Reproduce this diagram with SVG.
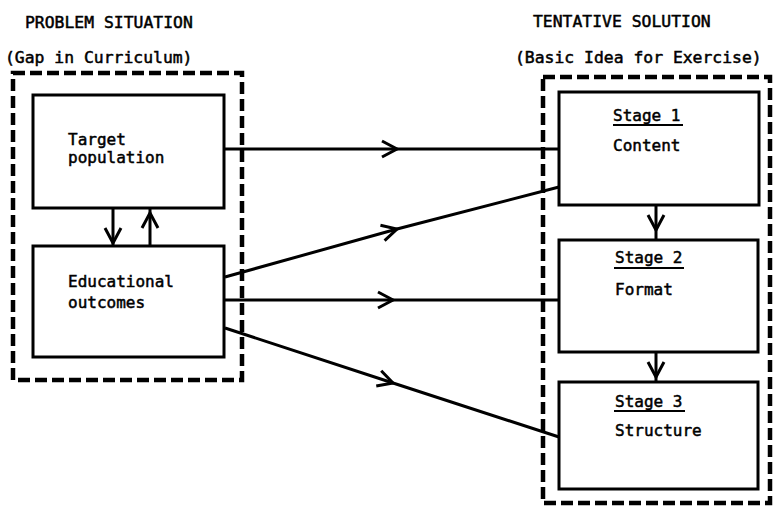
<svg xmlns="http://www.w3.org/2000/svg" width="776" height="508" viewBox="0 0 776 508">
<defs>
<marker id="chev" markerUnits="userSpaceOnUse" markerWidth="40" markerHeight="40" viewBox="-20 -20 40 40" refX="0" refY="0" orient="auto" overflow="visible">
<path d="M -15 -8 L 0 0 L -15 8" fill="none" stroke="#000" stroke-width="3" stroke-linejoin="miter"/>
</marker>
</defs>
<style>
text{font-family:"DejaVu Sans Mono","Liberation Mono",monospace;font-size:16px;fill:#000;stroke:#000;stroke-width:0.5}
.hdr{font-size:16.4px}
.box{fill:#fff;stroke:#000;stroke-width:3}
.dash{fill:none;stroke:#000;stroke-width:4.5;stroke-dasharray:12 5}
.conn{fill:none;stroke:#000;stroke-width:3;marker-mid:url(#chev)}
.ul{stroke:#000;stroke-width:2}
</style>
<rect width="776" height="508" fill="#fff"/>

<g id="problem-situation">
<text class="hdr" x="25" y="28">PROBLEM SITUATION</text>
<text class="hdr" x="5" y="63">(Gap in Curriculum)</text>
<rect class="dash" x="13" y="73" width="229" height="307"/>
</g>

<g id="tentative-solution">
<text class="hdr" x="533" y="27">TENTATIVE SOLUTION</text>
<text class="hdr" x="515" y="63">(Basic Idea for Exercise)</text>
<rect class="dash" x="543" y="77" width="227" height="426"/>
</g>

<g id="connectors">
<path class="conn" d="M 113 208 L 113 243 L 113 246"/>
<path class="conn" d="M 150 246 L 150 213 L 150 208"/>
<path class="conn" d="M 656 205 L 656 230 L 656 240"/>
<path class="conn" d="M 656 352 L 656 377 L 656 382"/>
<path class="conn" d="M 224 149 L 397 149 L 559 149"/>
<path class="conn" d="M 225 277 L 397 229 L 559 187"/>
<path class="conn" d="M 225 300 L 393 300 L 559 300"/>
<path class="conn" d="M 225 328 L 393 383 L 559 437"/>
</g>

<g id="target-population">
<rect class="box" x="33" y="95" width="191" height="113"/>
<text x="68" y="145">Target</text>
<text x="68" y="163">population</text>
</g>

<g id="educational-outcomes">
<rect class="box" x="33" y="246" width="191" height="111"/>
<text x="68" y="287">Educational</text>
<text x="68" y="308">outcomes</text>
</g>

<g id="stage-1">
<rect class="box" x="559" y="92" width="200" height="113"/>
<text x="613" y="121">Stage 1</text>
<line class="ul" x1="613" y1="125" x2="683" y2="125"/>
<text x="613" y="151">Content</text>
</g>

<g id="stage-2">
<rect class="box" x="559" y="240" width="199" height="112"/>
<text x="615" y="263">Stage 2</text>
<line class="ul" x1="614" y1="268" x2="684" y2="268"/>
<text x="615" y="295">Format</text>
</g>

<g id="stage-3">
<rect class="box" x="559" y="382" width="199" height="107"/>
<text x="615" y="407">Stage 3</text>
<line class="ul" x1="614" y1="411" x2="685" y2="411"/>
<text x="615" y="436">Structure</text>
</g>
</svg>
